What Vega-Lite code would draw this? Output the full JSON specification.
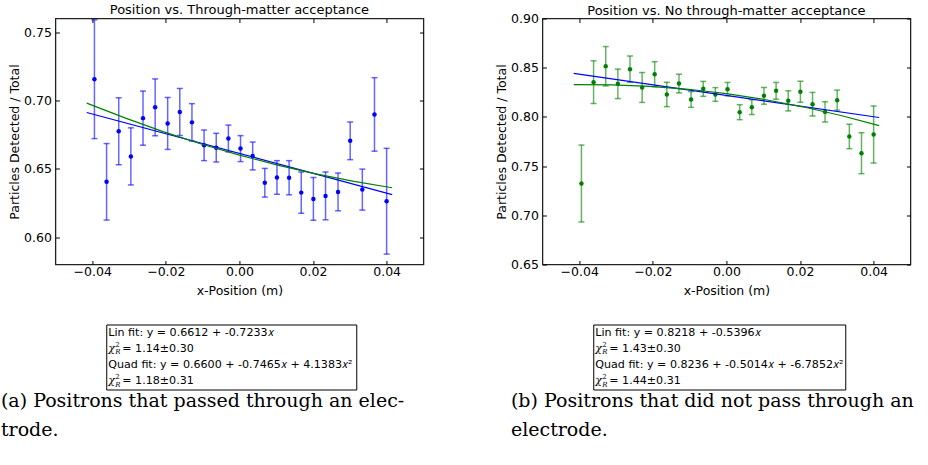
{
  "$schema": "https://vega.github.io/schema/vega-lite/v6.json",
  "background": "white",
  "padding": {"left": 0, "top": 2.5, "right": 0, "bottom": 0},
  "config": {
    "font": "DejaVu Sans",
    "view": {"stroke": null},
    "axis": {"labelFont": "DejaVu Sans", "labelFontSize": 12.5, "labelColor": "#000", "titleFont": "DejaVu Sans", "titleFontSize": 12.5, "titleFontWeight": "normal", "titleColor": "#000", "grid": false, "domain": false, "tickColor": "#000", "tickSize": -4, "labelPadding": 8, "tickWidth": 1},
    "axisX": {"labelPadding": 4.5},
    "title": {"font": "DejaVu Sans", "fontSize": 13, "fontWeight": "normal", "color": "#000", "offset": 1}
  },
  "spacing": 69,
  "hconcat": [
    {
      "title": {"text": ["(a) Positrons that passed through an elec-", "trode."], "orient": "bottom", "anchor": "start", "font": "DejaVu Serif", "fontSize": 19, "lineHeight": 28.7, "dx": -7, "offset": 2},
      "spacing": 25,
      "center": true,
      "vconcat": [
        {
          "title": {"text": "Position vs. Through-matter acceptance"},
          "width": 368, "height": 246,
          "view": {"stroke": "#222", "strokeWidth": 1.3},
          "data": {"values": [
            {"x": -0.0394, "y": 0.7156, "err": 0.0435},
            {"x": -0.0361, "y": 0.6405, "err": 0.0280},
            {"x": -0.0328, "y": 0.6775, "err": 0.0245},
            {"x": -0.0295, "y": 0.6591, "err": 0.0209},
            {"x": -0.0262, "y": 0.6871, "err": 0.0198},
            {"x": -0.0229, "y": 0.6950, "err": 0.0208},
            {"x": -0.0195, "y": 0.6832, "err": 0.0190},
            {"x": -0.0162, "y": 0.6916, "err": 0.0172},
            {"x": -0.0129, "y": 0.6840, "err": 0.0137},
            {"x": -0.0096, "y": 0.6672, "err": 0.0112},
            {"x": -0.0063, "y": 0.6655, "err": 0.0105},
            {"x": -0.0030, "y": 0.6722, "err": 0.0098},
            {"x": 0.0003, "y": 0.6648, "err": 0.0095},
            {"x": 0.0036, "y": 0.6594, "err": 0.0102},
            {"x": 0.0069, "y": 0.6398, "err": 0.0105},
            {"x": 0.0102, "y": 0.6437, "err": 0.0123},
            {"x": 0.0135, "y": 0.6435, "err": 0.0125},
            {"x": 0.0168, "y": 0.6326, "err": 0.0151},
            {"x": 0.0201, "y": 0.6280, "err": 0.0157},
            {"x": 0.0234, "y": 0.6302, "err": 0.0175},
            {"x": 0.0268, "y": 0.6331, "err": 0.0138},
            {"x": 0.0301, "y": 0.6705, "err": 0.0138},
            {"x": 0.0334, "y": 0.6348, "err": 0.0150},
            {"x": 0.0367, "y": 0.6898, "err": 0.0269},
            {"x": 0.0400, "y": 0.6263, "err": 0.0387}
          ]},
          "resolve": {"axis": {"x": "independent", "y": "independent"}},
          "layer": [
            {
              "mark": {"type": "errorbar", "ticks": true, "size": 6, "thickness": 1.5, "color": "#0000ff", "opacity": 0.6},
              "encoding": {
                "x": {"field": "x", "type": "quantitative", "scale": {"domain": [-0.05, 0.05], "nice": false}, "axis": null},
                "y": {"field": "y", "type": "quantitative", "scale": {"domain": [0.58, 0.76], "nice": false, "zero": false}, "axis": null},
                "yError": {"field": "err"}
              }
            },
            {
              "mark": {"type": "circle", "size": 20, "color": "#0000ff", "opacity": 1},
              "encoding": {
                "x": {"field": "x", "type": "quantitative", "scale": {"domain": [-0.05, 0.05], "nice": false}, "axis": {"values": [-0.04, -0.02, 0, 0.02, 0.04], "format": ".2f", "title": "x-Position (m)", "titlePadding": 7}},
                "y": {"field": "y", "type": "quantitative", "scale": {"domain": [0.58, 0.76], "nice": false, "zero": false}, "axis": {"values": [0.6, 0.65, 0.7, 0.75], "format": ".2f", "title": "Particles Detected / Total", "titlePadding": 2}}
              }
            },
            {
              "data": {"values": [{"x": -0.0415, "y": 0.691217}, {"x": 0.0415, "y": 0.631183}]},
              "mark": {"type": "line", "color": "#0000ff", "strokeWidth": 1.2},
              "encoding": {
                "x": {"field": "x", "type": "quantitative", "scale": {"domain": [-0.05, 0.05], "nice": false}, "axis": {"orient": "top", "labels": false, "title": null, "values": [-0.04, -0.02, 0, 0.02, 0.04]}},
                "y": {"field": "y", "type": "quantitative", "scale": {"domain": [0.58, 0.76], "nice": false, "zero": false}, "axis": {"orient": "right", "labels": false, "title": null, "values": [0.6, 0.65, 0.7, 0.75]}}
              }
            },
            {
              "data": {"values": [
                {"x": -0.0415, "y": 0.698110}, {"x": -0.031125, "y": 0.687244}, {"x": -0.02075, "y": 0.677272},
                {"x": -0.010375, "y": 0.668190}, {"x": 0, "y": 0.660000}, {"x": 0.010375, "y": 0.652700},
                {"x": 0.02075, "y": 0.646292}, {"x": 0.031125, "y": 0.640774}, {"x": 0.0415, "y": 0.636147}
              ]},
              "mark": {"type": "line", "color": "#008000", "strokeWidth": 1.2},
              "encoding": {
                "x": {"field": "x", "type": "quantitative", "scale": {"domain": [-0.05, 0.05], "nice": false}, "axis": null},
                "y": {"field": "y", "type": "quantitative", "scale": {"domain": [0.58, 0.76], "nice": false, "zero": false}, "axis": null}
              }
            }
          ]
        },
        {
          "width": 250, "height": 65,
          "view": {"stroke": "#000", "strokeWidth": 1},
          "data": {"values": [
            {"line": 1, "kind": "fit", "text": "Lin fit: y = 0.6612 + -0.7233𝑥"},
            {"line": 2, "kind": "chi", "text": "= 1.14±0.30"},
            {"line": 3, "kind": "fit", "text": "Quad fit: y = 0.6600 + -0.7465𝑥 + 4.1383𝑥²"},
            {"line": 4, "kind": "chi", "text": "= 1.18±0.31"}
          ]},
          "encoding": {
            "y": {"field": "line", "type": "ordinal", "axis": {"orient": "right", "minExtent": 17, "maxExtent": 17, "domain": false, "ticks": false, "labels": false, "title": null}},
            "x": {"datum": 0, "type": "quantitative", "scale": {"domain": [0, 1]}, "axis": null}
          },
          "layer": [
            {"transform": [{"filter": "datum.kind == 'fit'"}], "mark": {"type": "text", "align": "left", "dx": 2, "fontSize": 11.1, "font": "DejaVu Sans", "color": "#000"}, "encoding": {"text": {"field": "text"}}},
            {"transform": [{"filter": "datum.kind == 'chi'"}], "mark": {"type": "text", "align": "left", "dx": 16, "fontSize": 11.1, "font": "DejaVu Sans", "color": "#000"}, "encoding": {"text": {"field": "text"}}},
            {"transform": [{"filter": "datum.kind == 'chi'"}], "mark": {"type": "text", "align": "left", "dx": 2, "fontSize": 11.1, "font": "DejaVu Serif", "fontStyle": "italic", "color": "#000"}, "encoding": {"text": {"value": "χ"}}},
            {"transform": [{"filter": "datum.kind == 'chi'"}], "mark": {"type": "text", "align": "left", "dx": 9, "dy": -4, "fontSize": 7, "font": "DejaVu Serif", "color": "#000"}, "encoding": {"text": {"value": "2"}}},
            {"transform": [{"filter": "datum.kind == 'chi'"}], "mark": {"type": "text", "align": "left", "dx": 9, "dy": 3.5, "fontSize": 7, "font": "DejaVu Serif", "fontStyle": "italic", "color": "#000"}, "encoding": {"text": {"value": "R"}}}
          ]
        }
      ]
    },
    {
      "title": {"text": ["(b) Positrons that did not pass through an", "electrode."], "orient": "bottom", "anchor": "start", "font": "DejaVu Serif", "fontSize": 19, "lineHeight": 28.7, "dx": 16, "offset": 2},
      "spacing": 25,
      "center": true,
      "vconcat": [
        {
          "title": {"text": "Position vs. No through-matter acceptance", "offset": -5.5},
          "width": 368, "height": 246,
          "view": {"stroke": "#222", "strokeWidth": 1.3},
          "data": {"values": [
            {"x": -0.0394, "y": 0.7323, "err": 0.0391},
            {"x": -0.0361, "y": 0.8353, "err": 0.0217},
            {"x": -0.0328, "y": 0.8515, "err": 0.0200},
            {"x": -0.0295, "y": 0.8336, "err": 0.0150},
            {"x": -0.0262, "y": 0.8485, "err": 0.0134},
            {"x": -0.0229, "y": 0.8299, "err": 0.0152},
            {"x": -0.0195, "y": 0.8434, "err": 0.0127},
            {"x": -0.0162, "y": 0.8228, "err": 0.0124},
            {"x": -0.0129, "y": 0.8339, "err": 0.0095},
            {"x": -0.0096, "y": 0.8177, "err": 0.0080},
            {"x": -0.0063, "y": 0.8285, "err": 0.0076},
            {"x": -0.0030, "y": 0.8228, "err": 0.0070},
            {"x": 0.0003, "y": 0.8282, "err": 0.0068},
            {"x": 0.0036, "y": 0.8048, "err": 0.0076},
            {"x": 0.0069, "y": 0.8099, "err": 0.0075},
            {"x": 0.0102, "y": 0.8214, "err": 0.0085},
            {"x": 0.0135, "y": 0.8265, "err": 0.0085},
            {"x": 0.0168, "y": 0.8163, "err": 0.0102},
            {"x": 0.0201, "y": 0.8255, "err": 0.0107},
            {"x": 0.0234, "y": 0.8129, "err": 0.0120},
            {"x": 0.0268, "y": 0.8051, "err": 0.0103},
            {"x": 0.0301, "y": 0.8170, "err": 0.0102},
            {"x": 0.0334, "y": 0.7801, "err": 0.0124},
            {"x": 0.0367, "y": 0.7631, "err": 0.0208},
            {"x": 0.0400, "y": 0.7821, "err": 0.0290}
          ]},
          "resolve": {"axis": {"x": "independent", "y": "independent"}},
          "layer": [
            {
              "mark": {"type": "errorbar", "ticks": true, "size": 6, "thickness": 1.5, "color": "#008000", "opacity": 0.6},
              "encoding": {
                "x": {"field": "x", "type": "quantitative", "scale": {"domain": [-0.05, 0.05], "nice": false}, "axis": null},
                "y": {"field": "y", "type": "quantitative", "scale": {"domain": [0.65, 0.9], "nice": false, "zero": false}, "axis": null},
                "yError": {"field": "err"}
              }
            },
            {
              "mark": {"type": "circle", "size": 20, "color": "#008000", "opacity": 1},
              "encoding": {
                "x": {"field": "x", "type": "quantitative", "scale": {"domain": [-0.05, 0.05], "nice": false}, "axis": {"values": [-0.04, -0.02, 0, 0.02, 0.04], "format": ".2f", "title": "x-Position (m)", "titlePadding": 7}},
                "y": {"field": "y", "type": "quantitative", "scale": {"domain": [0.65, 0.9], "nice": false, "zero": false}, "axis": {"values": [0.65, 0.7, 0.75, 0.8, 0.85, 0.9], "format": ".2f", "title": "Particles Detected / Total", "titlePadding": 2}}
              }
            },
            {
              "data": {"values": [{"x": -0.0415, "y": 0.844193}, {"x": 0.0415, "y": 0.799407}]},
              "mark": {"type": "line", "color": "#0000ff", "strokeWidth": 1.2},
              "encoding": {
                "x": {"field": "x", "type": "quantitative", "scale": {"domain": [-0.05, 0.05], "nice": false}, "axis": {"orient": "top", "labels": false, "title": null, "values": [-0.04, -0.02, 0, 0.02, 0.04]}},
                "y": {"field": "y", "type": "quantitative", "scale": {"domain": [0.65, 0.9], "nice": false, "zero": false}, "axis": {"orient": "right", "labels": false, "title": null, "values": [0.65, 0.7, 0.75, 0.8, 0.85, 0.9]}}
              }
            },
            {
              "data": {"values": [
                {"x": -0.0415, "y": 0.832722}, {"x": -0.031125, "y": 0.832633}, {"x": -0.02075, "y": 0.831083},
                {"x": -0.010375, "y": 0.828072}, {"x": 0, "y": 0.823600}, {"x": 0.010375, "y": 0.817668},
                {"x": 0.02075, "y": 0.810275}, {"x": 0.031125, "y": 0.801421}, {"x": 0.0415, "y": 0.791106}
              ]},
              "mark": {"type": "line", "color": "#008000", "strokeWidth": 1.2},
              "encoding": {
                "x": {"field": "x", "type": "quantitative", "scale": {"domain": [-0.05, 0.05], "nice": false}, "axis": null},
                "y": {"field": "y", "type": "quantitative", "scale": {"domain": [0.65, 0.9], "nice": false, "zero": false}, "axis": null}
              }
            }
          ]
        },
        {
          "width": 252, "height": 65,
          "view": {"stroke": "#000", "strokeWidth": 1},
          "data": {"values": [
            {"line": 1, "kind": "fit", "text": "Lin fit: y = 0.8218 + -0.5396𝑥"},
            {"line": 2, "kind": "chi", "text": "= 1.43±0.30"},
            {"line": 3, "kind": "fit", "text": "Quad fit: y = 0.8236 + -0.5014𝑥 + -6.7852𝑥²"},
            {"line": 4, "kind": "chi", "text": "= 1.44±0.31"}
          ]},
          "encoding": {
            "y": {"field": "line", "type": "ordinal", "axis": {"orient": "right", "minExtent": 15, "maxExtent": 15, "domain": false, "ticks": false, "labels": false, "title": null}},
            "x": {"datum": 0, "type": "quantitative", "scale": {"domain": [0, 1]}, "axis": null}
          },
          "layer": [
            {"transform": [{"filter": "datum.kind == 'fit'"}], "mark": {"type": "text", "align": "left", "dx": 2, "fontSize": 11.1, "font": "DejaVu Sans", "color": "#000"}, "encoding": {"text": {"field": "text"}}},
            {"transform": [{"filter": "datum.kind == 'chi'"}], "mark": {"type": "text", "align": "left", "dx": 16, "fontSize": 11.1, "font": "DejaVu Sans", "color": "#000"}, "encoding": {"text": {"field": "text"}}},
            {"transform": [{"filter": "datum.kind == 'chi'"}], "mark": {"type": "text", "align": "left", "dx": 2, "fontSize": 11.1, "font": "DejaVu Serif", "fontStyle": "italic", "color": "#000"}, "encoding": {"text": {"value": "χ"}}},
            {"transform": [{"filter": "datum.kind == 'chi'"}], "mark": {"type": "text", "align": "left", "dx": 9, "dy": -4, "fontSize": 7, "font": "DejaVu Serif", "color": "#000"}, "encoding": {"text": {"value": "2"}}},
            {"transform": [{"filter": "datum.kind == 'chi'"}], "mark": {"type": "text", "align": "left", "dx": 9, "dy": 3.5, "fontSize": 7, "font": "DejaVu Serif", "fontStyle": "italic", "color": "#000"}, "encoding": {"text": {"value": "R"}}}
          ]
        }
      ]
    }
  ]
}
